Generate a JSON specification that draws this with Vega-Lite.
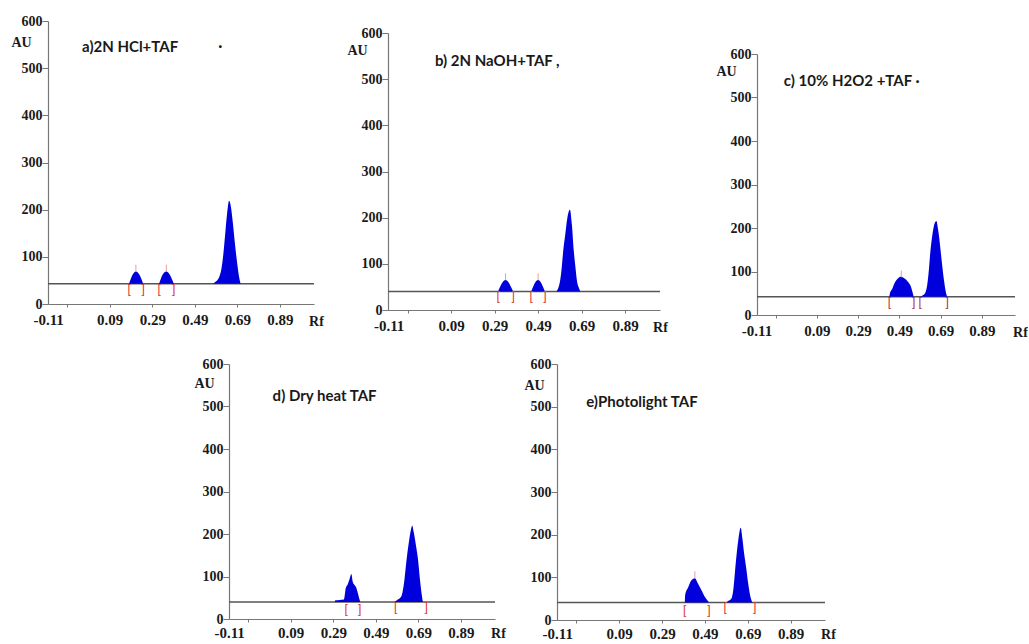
{
  "$schema": "https://vega.github.io/schema/vega-lite/v6.json",
  "background": "white",
  "padding": {"left": 10, "top": 14, "right": 0, "bottom": 0},
  "config": {
    "view": {"stroke": null},
    "axis": {"grid": false, "domainColor": "#777", "tickColor": "#777", "domainWidth": 1.2, "labelFont": "Liberation Serif", "labelFontWeight": "bold", "labelFontSize": 15, "labelColor": "#1a1a1a", "titleFont": "Liberation Serif", "titleFontWeight": "bold", "titleFontSize": 14, "titleColor": "#1a1a1a"},
    "axisY": {"tickSize": 6, "labelPadding": 0, "labelFontSize": 14},
    "axisX": {"tickSize": 3, "labelPadding": 5}
  },
  "datasets": {
    "peaks": [
      {"p": "a", "k": 1, "rf": 0.181, "au": 43}, {"p": "a", "k": 1, "rf": 0.188, "au": 52}, {"p": "a", "k": 1, "rf": 0.196, "au": 61}, {"p": "a", "k": 1, "rf": 0.205, "au": 67}, {"p": "a", "k": 1, "rf": 0.213, "au": 69}, {"p": "a", "k": 1, "rf": 0.222, "au": 67}, {"p": "a", "k": 1, "rf": 0.231, "au": 61}, {"p": "a", "k": 1, "rf": 0.24, "au": 52}, {"p": "a", "k": 1, "rf": 0.247, "au": 43},
      {"p": "a", "k": 2, "rf": 0.322, "au": 43}, {"p": "a", "k": 2, "rf": 0.329, "au": 52}, {"p": "a", "k": 2, "rf": 0.337, "au": 61}, {"p": "a", "k": 2, "rf": 0.346, "au": 67}, {"p": "a", "k": 2, "rf": 0.356, "au": 69}, {"p": "a", "k": 2, "rf": 0.365, "au": 67}, {"p": "a", "k": 2, "rf": 0.374, "au": 61}, {"p": "a", "k": 2, "rf": 0.383, "au": 52}, {"p": "a", "k": 2, "rf": 0.391, "au": 43},
      {"p": "a", "k": 3, "rf": 0.576, "au": 43}, {"p": "a", "k": 3, "rf": 0.59, "au": 48}, {"p": "a", "k": 3, "rf": 0.605, "au": 58}, {"p": "a", "k": 3, "rf": 0.615, "au": 75}, {"p": "a", "k": 3, "rf": 0.625, "au": 110}, {"p": "a", "k": 3, "rf": 0.635, "au": 160}, {"p": "a", "k": 3, "rf": 0.645, "au": 205}, {"p": "a", "k": 3, "rf": 0.651, "au": 219}, {"p": "a", "k": 3, "rf": 0.658, "au": 210}, {"p": "a", "k": 3, "rf": 0.668, "au": 175}, {"p": "a", "k": 3, "rf": 0.678, "au": 130}, {"p": "a", "k": 3, "rf": 0.688, "au": 90}, {"p": "a", "k": 3, "rf": 0.697, "au": 60}, {"p": "a", "k": 3, "rf": 0.705, "au": 43},
      {"p": "b", "k": 1, "rf": 0.306, "au": 40}, {"p": "b", "k": 1, "rf": 0.313, "au": 48}, {"p": "b", "k": 1, "rf": 0.322, "au": 57}, {"p": "b", "k": 1, "rf": 0.331, "au": 63}, {"p": "b", "k": 1, "rf": 0.34, "au": 65}, {"p": "b", "k": 1, "rf": 0.349, "au": 63}, {"p": "b", "k": 1, "rf": 0.358, "au": 57}, {"p": "b", "k": 1, "rf": 0.367, "au": 48}, {"p": "b", "k": 1, "rf": 0.375, "au": 40},
      {"p": "b", "k": 2, "rf": 0.458, "au": 40}, {"p": "b", "k": 2, "rf": 0.465, "au": 48}, {"p": "b", "k": 2, "rf": 0.473, "au": 57}, {"p": "b", "k": 2, "rf": 0.481, "au": 63}, {"p": "b", "k": 2, "rf": 0.49, "au": 65}, {"p": "b", "k": 2, "rf": 0.498, "au": 63}, {"p": "b", "k": 2, "rf": 0.506, "au": 57}, {"p": "b", "k": 2, "rf": 0.514, "au": 48}, {"p": "b", "k": 2, "rf": 0.521, "au": 40},
      {"p": "b", "k": 3, "rf": 0.574, "au": 40}, {"p": "b", "k": 3, "rf": 0.582, "au": 47}, {"p": "b", "k": 3, "rf": 0.59, "au": 61}, {"p": "b", "k": 3, "rf": 0.598, "au": 90}, {"p": "b", "k": 3, "rf": 0.605, "au": 127}, {"p": "b", "k": 3, "rf": 0.615, "au": 165}, {"p": "b", "k": 3, "rf": 0.624, "au": 199}, {"p": "b", "k": 3, "rf": 0.636, "au": 217}, {"p": "b", "k": 3, "rf": 0.645, "au": 185}, {"p": "b", "k": 3, "rf": 0.654, "au": 127}, {"p": "b", "k": 3, "rf": 0.662, "au": 90}, {"p": "b", "k": 3, "rf": 0.669, "au": 61}, {"p": "b", "k": 3, "rf": 0.677, "au": 48}, {"p": "b", "k": 3, "rf": 0.684, "au": 40},
      {"p": "c", "k": 1, "rf": 0.441, "au": 42}, {"p": "c", "k": 1, "rf": 0.445, "au": 52}, {"p": "c", "k": 1, "rf": 0.455, "au": 60}, {"p": "c", "k": 1, "rf": 0.465, "au": 72}, {"p": "c", "k": 1, "rf": 0.475, "au": 80}, {"p": "c", "k": 1, "rf": 0.485, "au": 85}, {"p": "c", "k": 1, "rf": 0.495, "au": 88}, {"p": "c", "k": 1, "rf": 0.505, "au": 87}, {"p": "c", "k": 1, "rf": 0.515, "au": 84}, {"p": "c", "k": 1, "rf": 0.525, "au": 80}, {"p": "c", "k": 1, "rf": 0.535, "au": 74}, {"p": "c", "k": 1, "rf": 0.545, "au": 66}, {"p": "c", "k": 1, "rf": 0.552, "au": 55}, {"p": "c", "k": 1, "rf": 0.559, "au": 42},
      {"p": "c", "k": 2, "rf": 0.591, "au": 42}, {"p": "c", "k": 2, "rf": 0.605, "au": 46}, {"p": "c", "k": 2, "rf": 0.616, "au": 52}, {"p": "c", "k": 2, "rf": 0.625, "au": 70}, {"p": "c", "k": 2, "rf": 0.633, "au": 105}, {"p": "c", "k": 2, "rf": 0.64, "au": 146}, {"p": "c", "k": 2, "rf": 0.65, "au": 185}, {"p": "c", "k": 2, "rf": 0.66, "au": 210}, {"p": "c", "k": 2, "rf": 0.669, "au": 216}, {"p": "c", "k": 2, "rf": 0.678, "au": 195}, {"p": "c", "k": 2, "rf": 0.688, "au": 155}, {"p": "c", "k": 2, "rf": 0.697, "au": 115}, {"p": "c", "k": 2, "rf": 0.706, "au": 80}, {"p": "c", "k": 2, "rf": 0.714, "au": 55}, {"p": "c", "k": 2, "rf": 0.721, "au": 42},
      {"p": "d", "k": 1, "rf": 0.297, "au": 40}, {"p": "d", "k": 1, "rf": 0.3, "au": 44}, {"p": "d", "k": 1, "rf": 0.32, "au": 45}, {"p": "d", "k": 1, "rf": 0.34, "au": 46}, {"p": "d", "k": 1, "rf": 0.345, "au": 60}, {"p": "d", "k": 1, "rf": 0.348, "au": 71}, {"p": "d", "k": 1, "rf": 0.359, "au": 83}, {"p": "d", "k": 1, "rf": 0.367, "au": 95}, {"p": "d", "k": 1, "rf": 0.375, "au": 106}, {"p": "d", "k": 1, "rf": 0.382, "au": 87}, {"p": "d", "k": 1, "rf": 0.39, "au": 80}, {"p": "d", "k": 1, "rf": 0.397, "au": 75}, {"p": "d", "k": 1, "rf": 0.406, "au": 60}, {"p": "d", "k": 1, "rf": 0.412, "au": 48}, {"p": "d", "k": 1, "rf": 0.417, "au": 40},
      {"p": "d", "k": 2, "rf": 0.578, "au": 40}, {"p": "d", "k": 2, "rf": 0.59, "au": 45}, {"p": "d", "k": 2, "rf": 0.605, "au": 50}, {"p": "d", "k": 2, "rf": 0.615, "au": 62}, {"p": "d", "k": 2, "rf": 0.625, "au": 95}, {"p": "d", "k": 2, "rf": 0.633, "au": 133}, {"p": "d", "k": 2, "rf": 0.645, "au": 180}, {"p": "d", "k": 2, "rf": 0.655, "au": 210}, {"p": "d", "k": 2, "rf": 0.661, "au": 220}, {"p": "d", "k": 2, "rf": 0.668, "au": 205}, {"p": "d", "k": 2, "rf": 0.678, "au": 175}, {"p": "d", "k": 2, "rf": 0.688, "au": 141}, {"p": "d", "k": 2, "rf": 0.697, "au": 95}, {"p": "d", "k": 2, "rf": 0.705, "au": 60}, {"p": "d", "k": 2, "rf": 0.711, "au": 40},
      {"p": "e", "k": 1, "rf": 0.396, "au": 41}, {"p": "e", "k": 1, "rf": 0.398, "au": 60}, {"p": "e", "k": 1, "rf": 0.412, "au": 77}, {"p": "e", "k": 1, "rf": 0.427, "au": 93}, {"p": "e", "k": 1, "rf": 0.443, "au": 98}, {"p": "e", "k": 1, "rf": 0.458, "au": 85}, {"p": "e", "k": 1, "rf": 0.474, "au": 70}, {"p": "e", "k": 1, "rf": 0.49, "au": 54}, {"p": "e", "k": 1, "rf": 0.5, "au": 47}, {"p": "e", "k": 1, "rf": 0.51, "au": 41},
      {"p": "e", "k": 2, "rf": 0.59, "au": 41}, {"p": "e", "k": 2, "rf": 0.6, "au": 45}, {"p": "e", "k": 2, "rf": 0.613, "au": 50}, {"p": "e", "k": 2, "rf": 0.622, "au": 70}, {"p": "e", "k": 2, "rf": 0.634, "au": 135}, {"p": "e", "k": 2, "rf": 0.645, "au": 185}, {"p": "e", "k": 2, "rf": 0.657, "au": 216}, {"p": "e", "k": 2, "rf": 0.665, "au": 190}, {"p": "e", "k": 2, "rf": 0.673, "au": 155}, {"p": "e", "k": 2, "rf": 0.683, "au": 120}, {"p": "e", "k": 2, "rf": 0.692, "au": 85}, {"p": "e", "k": 2, "rf": 0.7, "au": 60}, {"p": "e", "k": 2, "rf": 0.711, "au": 41}
    ],
    "base": [
      {"p": "a", "au": 43}, {"p": "b", "au": 40}, {"p": "c", "au": 42}, {"p": "d", "au": 40}, {"p": "e", "au": 41}
    ],
    "brackets": [
      {"p": "a", "rf": 0.181, "au": 32, "g": "["}, {"p": "a", "rf": 0.247, "au": 32, "g": "]"}, {"p": "a", "rf": 0.322, "au": 32, "g": "["}, {"p": "a", "rf": 0.391, "au": 32, "g": "]"},
      {"p": "b", "rf": 0.306, "au": 30, "g": "["}, {"p": "b", "rf": 0.375, "au": 30, "g": "]"}, {"p": "b", "rf": 0.458, "au": 30, "g": "["}, {"p": "b", "rf": 0.521, "au": 30, "g": "]"},
      {"p": "c", "rf": 0.441, "au": 29, "g": "["}, {"p": "c", "rf": 0.559, "au": 29, "g": "]"}, {"p": "c", "rf": 0.591, "au": 29, "g": "["}, {"p": "c", "rf": 0.721, "au": 29, "g": "]"},
      {"p": "d", "rf": 0.351, "au": 24, "g": "["}, {"p": "d", "rf": 0.414, "au": 24, "g": "]"}, {"p": "d", "rf": 0.583, "au": 29, "g": "["}, {"p": "d", "rf": 0.727, "au": 29, "g": "]"},
      {"p": "e", "rf": 0.396, "au": 23, "g": "["}, {"p": "e", "rf": 0.509, "au": 23, "g": "]"}, {"p": "e", "rf": 0.584, "au": 30, "g": "["}, {"p": "e", "rf": 0.722, "au": 30, "g": "]"}
    ],
    "apex": [
      {"p": "a", "rf": 0.213, "au": 76}, {"p": "a", "rf": 0.356, "au": 76},
      {"p": "b", "rf": 0.34, "au": 72}, {"p": "b", "rf": 0.49, "au": 72},
      {"p": "c", "rf": 0.499, "au": 94},
      {"p": "e", "rf": 0.443, "au": 106}
    ],
    "labels": [
      {"p": "a", "t": "a)2N HCl+TAF", "rf": -0.04, "au": 545},
      {"p": "a", "t": "·", "rf": 0.6, "au": 548},
      {"p": "b", "t": "b) 2N NaOH+TAF ,", "rf": 0.016, "au": 539},
      {"p": "c", "t": "c) 10% H2O2 +TAF  ·", "rf": -0.07, "au": 538},
      {"p": "d", "t": "d) Dry heat TAF", "rf": 0.005, "au": 525},
      {"p": "e", "t": "e)Photolight TAF", "rf": -0.064, "au": 510}
    ]
  },
  "spacing": 18,
  "vconcat": [
    {
      "spacing": 22,
      "hconcat": [
        {
          "width": 266, "height": 283,
          "layer": [
            {"data": {"name": "base"}, "transform": [{"filter": "datum.p == 'a'"}], "mark": {"type": "rule", "color": "#555", "strokeWidth": 1.5}, "encoding": {"y": {"field": "au", "type": "quantitative"}}},
            {"data": {"name": "peaks"}, "transform": [{"filter": "datum.p == 'a'"}], "mark": {"type": "area", "color": "#0000dd", "interpolate": "monotone"},
             "encoding": {
               "x": {"field": "rf", "type": "quantitative", "scale": {"domain": [-0.2, 1.05], "nice": false, "zero": false}, "axis": {"values": [-0.11, 0.09, 0.29, 0.49, 0.69, 0.89], "labelExpr": "(datum.value < 0 ? '-' : '') + format(abs(datum.value), '.2f')", "labelOffset": {"condition": {"test": "datum.value < 0", "value": -19}, "value": 0}, "title": "Rf", "titleAngle": 0, "titleX": 268, "titleY": 17, "titleAlign": "center", "titleBaseline": "middle"}},
               "y": {"field": "au", "type": "quantitative", "stack": null, "scale": {"domain": [0, 600], "nice": false}, "axis": {"values": [0, 100, 200, 300, 400, 500, 600], "title": "AU", "titleAngle": 0, "titleX": -27, "titleY": 21, "titleAlign": "center", "titleBaseline": "middle"}},
               "y2": {"datum": 43},
               "detail": {"field": "k"}
             }},
            {"data": {"name": "brackets"}, "transform": [{"filter": "datum.p == 'a'"}], "mark": {"type": "text", "color": "#e0352b", "font": "Liberation Sans", "fontSize": 12}, "encoding": {"x": {"field": "rf", "type": "quantitative"}, "y": {"field": "au", "type": "quantitative"}, "text": {"field": "g"}}},
            {"data": {"name": "apex"}, "transform": [{"filter": "datum.p == 'a'"}], "mark": {"type": "tick", "orient": "vertical", "color": "#e87070", "size": 7, "thickness": 1}, "encoding": {"x": {"field": "rf", "type": "quantitative"}, "y": {"field": "au", "type": "quantitative"}}},
            {"data": {"name": "labels"}, "transform": [{"filter": "datum.p == 'a'"}], "mark": {"type": "text", "align": "left", "baseline": "middle", "font": "Lato", "fontWeight": "bold", "fontSize": 15, "color": "#1a1a1a"}, "encoding": {"x": {"field": "rf", "type": "quantitative"}, "y": {"field": "au", "type": "quantitative"}, "text": {"field": "t"}}}
          ]
        },
        {
          "spacing": 0,
          "vconcat": [
            {"width": 1, "height": 5, "data": {"values": []}, "mark": "point"},
            {
              "width": 272, "height": 277,
              "layer": [
                {"data": {"name": "base"}, "transform": [{"filter": "datum.p == 'b'"}], "mark": {"type": "rule", "color": "#555", "strokeWidth": 1.5}, "encoding": {"y": {"field": "au", "type": "quantitative"}}},
                {"data": {"name": "peaks"}, "transform": [{"filter": "datum.p == 'b'"}], "mark": {"type": "area", "color": "#0000dd", "interpolate": "monotone"},
                 "encoding": {
                   "x": {"field": "rf", "type": "quantitative", "scale": {"domain": [-0.2, 1.05], "nice": false, "zero": false}, "axis": {"values": [-0.11, 0.09, 0.29, 0.49, 0.69, 0.89], "labelExpr": "(datum.value < 0 ? '-' : '') + format(abs(datum.value), '.2f')", "labelOffset": {"condition": {"test": "datum.value < 0", "value": -19}, "value": 0}, "title": "Rf", "titleAngle": 0, "titleX": 272, "titleY": 17, "titleAlign": "center", "titleBaseline": "middle"}},
                   "y": {"field": "au", "type": "quantitative", "stack": null, "scale": {"domain": [0, 600], "nice": false}, "axis": {"values": [0, 100, 200, 300, 400, 500, 600], "title": "AU", "titleAngle": 0, "titleX": -31, "titleY": 17, "titleAlign": "center", "titleBaseline": "middle"}},
                   "y2": {"datum": 40},
                   "detail": {"field": "k"}
                 }},
                {"data": {"name": "brackets"}, "transform": [{"filter": "datum.p == 'b'"}], "mark": {"type": "text", "color": "#e0352b", "font": "Liberation Sans", "fontSize": 12}, "encoding": {"x": {"field": "rf", "type": "quantitative"}, "y": {"field": "au", "type": "quantitative"}, "text": {"field": "g"}}},
                {"data": {"name": "apex"}, "transform": [{"filter": "datum.p == 'b'"}], "mark": {"type": "tick", "orient": "vertical", "color": "#e87070", "size": 7, "thickness": 1}, "encoding": {"x": {"field": "rf", "type": "quantitative"}, "y": {"field": "au", "type": "quantitative"}}},
                {"data": {"name": "labels"}, "transform": [{"filter": "datum.p == 'b'"}], "mark": {"type": "text", "align": "left", "baseline": "middle", "font": "Lato", "fontWeight": "bold", "fontSize": 15, "color": "#1a1a1a"}, "encoding": {"x": {"field": "rf", "type": "quantitative"}, "y": {"field": "au", "type": "quantitative"}, "text": {"field": "t"}}}
              ]
            }
          ]
        },
        {"width": 3, "height": 1, "data": {"values": []}, "mark": "point"},
        {
          "spacing": 0,
          "vconcat": [
            {"width": 1, "height": 26, "data": {"values": []}, "mark": "point"},
            {
              "width": 258, "height": 261,
              "layer": [
                {"data": {"name": "base"}, "transform": [{"filter": "datum.p == 'c'"}], "mark": {"type": "rule", "color": "#555", "strokeWidth": 1.5}, "encoding": {"y": {"field": "au", "type": "quantitative"}}},
                {"data": {"name": "peaks"}, "transform": [{"filter": "datum.p == 'c'"}], "mark": {"type": "area", "color": "#0000dd", "interpolate": "monotone"},
                 "encoding": {
                   "x": {"field": "rf", "type": "quantitative", "scale": {"domain": [-0.2, 1.05], "nice": false, "zero": false}, "axis": {"values": [-0.11, 0.09, 0.29, 0.49, 0.69, 0.89], "labelExpr": "(datum.value < 0 ? '-' : '') + format(abs(datum.value), '.2f')", "labelOffset": {"condition": {"test": "datum.value < 0", "value": -19}, "value": 0}, "title": "Rf", "titleAngle": 0, "titleX": 263, "titleY": 17, "titleAlign": "center", "titleBaseline": "middle"}},
                   "y": {"field": "au", "type": "quantitative", "stack": null, "scale": {"domain": [0, 600], "nice": false}, "axis": {"values": [0, 100, 200, 300, 400, 500, 600], "title": "AU", "titleAngle": 0, "titleX": -31, "titleY": 17, "titleAlign": "center", "titleBaseline": "middle"}},
                   "y2": {"datum": 42},
                   "detail": {"field": "k"}
                 }},
                {"data": {"name": "brackets"}, "transform": [{"filter": "datum.p == 'c'"}], "mark": {"type": "text", "color": "#b0304a", "font": "Liberation Sans", "fontSize": 12}, "encoding": {"x": {"field": "rf", "type": "quantitative"}, "y": {"field": "au", "type": "quantitative"}, "text": {"field": "g"}}},
                {"data": {"name": "apex"}, "transform": [{"filter": "datum.p == 'c'"}], "mark": {"type": "tick", "orient": "vertical", "color": "#e87070", "size": 7, "thickness": 1}, "encoding": {"x": {"field": "rf", "type": "quantitative"}, "y": {"field": "au", "type": "quantitative"}}},
                {"data": {"name": "labels"}, "transform": [{"filter": "datum.p == 'c'"}], "mark": {"type": "text", "align": "left", "baseline": "middle", "font": "Lato", "fontWeight": "bold", "fontSize": 15, "color": "#1a1a1a"}, "encoding": {"x": {"field": "rf", "type": "quantitative"}, "y": {"field": "au", "type": "quantitative"}, "text": {"field": "t"}}}
              ]
            }
          ]
        }
      ]
    },
    {
      "spacing": 17,
      "hconcat": [
        {"width": 128, "height": 1, "data": {"values": []}, "mark": "point"},
        {
          "width": 266, "height": 255,
          "layer": [
            {"data": {"name": "base"}, "transform": [{"filter": "datum.p == 'd'"}], "mark": {"type": "rule", "color": "#555", "strokeWidth": 1.5}, "encoding": {"y": {"field": "au", "type": "quantitative"}}},
            {"data": {"name": "peaks"}, "transform": [{"filter": "datum.p == 'd'"}], "mark": {"type": "area", "color": "#0000dd", "interpolate": "monotone"},
             "encoding": {
               "x": {"field": "rf", "type": "quantitative", "scale": {"domain": [-0.2, 1.05], "nice": false, "zero": false}, "axis": {"values": [-0.11, 0.09, 0.29, 0.49, 0.69, 0.89], "labelExpr": "(datum.value < 0 ? '-' : '') + format(abs(datum.value), '.2f')", "labelOffset": {"condition": {"test": "datum.value < 0", "value": -19}, "value": 0}, "labelPadding": 3, "title": "Rf", "titleAngle": 0, "titleX": 269, "titleY": 14, "titleAlign": "center", "titleBaseline": "middle"}},
               "y": {"field": "au", "type": "quantitative", "stack": null, "scale": {"domain": [0, 600], "nice": false}, "axis": {"values": [0, 100, 200, 300, 400, 500, 600], "title": "AU", "titleAngle": 0, "titleX": -25, "titleY": 19, "titleAlign": "center", "titleBaseline": "middle"}},
               "y2": {"datum": 40},
               "detail": {"field": "k"}
             }},
            {"data": {"name": "brackets"}, "transform": [{"filter": "datum.p == 'd'"}], "mark": {"type": "text", "color": "#e0352b", "font": "Liberation Sans", "fontSize": 12}, "encoding": {"x": {"field": "rf", "type": "quantitative"}, "y": {"field": "au", "type": "quantitative"}, "text": {"field": "g"}}},
            {"data": {"name": "labels"}, "transform": [{"filter": "datum.p == 'd'"}], "mark": {"type": "text", "align": "left", "baseline": "middle", "font": "Lato", "fontWeight": "bold", "fontSize": 15, "color": "#1a1a1a"}, "encoding": {"x": {"field": "rf", "type": "quantitative"}, "y": {"field": "au", "type": "quantitative"}, "text": {"field": "t"}}}
          ]
        },
        {
          "width": 268, "height": 256,
          "layer": [
            {"data": {"name": "base"}, "transform": [{"filter": "datum.p == 'e'"}], "mark": {"type": "rule", "color": "#555", "strokeWidth": 1.5}, "encoding": {"y": {"field": "au", "type": "quantitative"}}},
            {"data": {"name": "peaks"}, "transform": [{"filter": "datum.p == 'e'"}], "mark": {"type": "area", "color": "#0000dd", "interpolate": "monotone"},
             "encoding": {
               "x": {"field": "rf", "type": "quantitative", "scale": {"domain": [-0.2, 1.05], "nice": false, "zero": false}, "axis": {"values": [-0.11, 0.09, 0.29, 0.49, 0.69, 0.89], "labelExpr": "(datum.value < 0 ? '-' : '') + format(abs(datum.value), '.2f')", "labelOffset": {"condition": {"test": "datum.value < 0", "value": -19}, "value": 0}, "labelPadding": 3, "title": "Rf", "titleAngle": 0, "titleX": 271, "titleY": 14, "titleAlign": "center", "titleBaseline": "middle"}},
               "y": {"field": "au", "type": "quantitative", "stack": null, "scale": {"domain": [0, 600], "nice": false}, "axis": {"values": [0, 100, 200, 300, 400, 500, 600], "title": "AU", "titleAngle": 0, "titleX": -23, "titleY": 21, "titleAlign": "center", "titleBaseline": "middle"}},
               "y2": {"datum": 41},
               "detail": {"field": "k"}
             }},
            {"data": {"name": "brackets"}, "transform": [{"filter": "datum.p == 'e'"}], "mark": {"type": "text", "color": "#e0352b", "font": "Liberation Sans", "fontSize": 12}, "encoding": {"x": {"field": "rf", "type": "quantitative"}, "y": {"field": "au", "type": "quantitative"}, "text": {"field": "g"}}},
            {"data": {"name": "apex"}, "transform": [{"filter": "datum.p == 'e'"}], "mark": {"type": "tick", "orient": "vertical", "color": "#e87070", "size": 7, "thickness": 1}, "encoding": {"x": {"field": "rf", "type": "quantitative"}, "y": {"field": "au", "type": "quantitative"}}},
            {"data": {"name": "labels"}, "transform": [{"filter": "datum.p == 'e'"}], "mark": {"type": "text", "align": "left", "baseline": "middle", "font": "Lato", "fontWeight": "bold", "fontSize": 15, "color": "#1a1a1a"}, "encoding": {"x": {"field": "rf", "type": "quantitative"}, "y": {"field": "au", "type": "quantitative"}, "text": {"field": "t"}}}
          ]
        }
      ]
    }
  ]
}
